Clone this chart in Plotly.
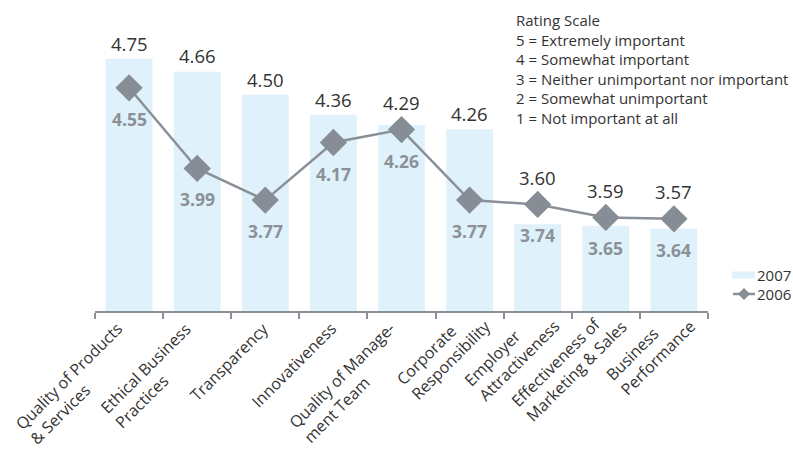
import plotly.graph_objects as go

# ---------------- data ----------------
categories = [
    "Quality of Products & Services",
    "Ethical Business Practices",
    "Transparency",
    "Innovativeness",
    "Quality of Management Team",
    "Corporate Responsibility",
    "Employer Attractiveness",
    "Effectiveness of Marketing & Sales",
    "Business Performance",
]
tick_labels = [
    "Quality of Products<br>& Services",
    "Ethical Business<br>Practices",
    "Transparency",
    "Innovativeness",
    "Quality of Manage-<br>ment Team",
    "Corporate<br>Responsibility",
    "Employer<br>Attractiveness",
    "Effectiveness of<br>Marketing & Sales",
    "Business<br>Performance",
]
values_2007 = [4.75, 4.66, 4.50, 4.36, 4.29, 4.26, 3.60, 3.59, 3.57]
values_2006 = [4.55, 3.99, 3.77, 4.17, 4.26, 3.77, 3.74, 3.65, 3.64]
series_names = ["2007", "2006"]
scale_lines = [
    "Rating Scale",
    "5 = Extremely important",
    "4 = Somewhat important",
    "3 = Neither unimportant nor important",
    "2 = Somewhat unimportant",
    "1 = Not important at all",
]

# ---------------- style ----------------
W, H = 793, 454
ML, MR, MT, MB = 95, 85, 0, 143
PLOT_W = W - ML - MR
PLOT_H = H - MT - MB
PX_PER_UNIT = 144.0
Y0 = 3.0
Y1 = Y0 + PLOT_H / PX_PER_UNIT
FONT = "Open Sans"
BAR_C = "#dff1fb"
LINE_C = "#8a9097"
MARK_C = "#878d94"
DARK = "#333333"
GRAY_TXT = "#8c9198"
LBL_FS = 16


def px(xp):
    return (xp - ML) / PLOT_W


def py(yp):
    return (MT + PLOT_H - yp) / PLOT_H


fig = go.Figure()
fig.add_trace(go.Bar(x=categories, y=values_2007, marker_color=BAR_C,
                     name=series_names[0], showlegend=False, hoverinfo="skip"))
fig.add_trace(go.Scatter(x=categories, y=values_2006, mode="lines+markers",
                         line=dict(color=LINE_C, width=2.5),
                         marker=dict(symbol="diamond", size=21, color=MARK_C),
                         name=series_names[1], showlegend=False, hoverinfo="skip"))

ann = []
for c, v7, v6 in zip(categories, values_2007, values_2006):
    ytop = max(v7 + 16 / PX_PER_UNIT, v6 + 27 / PX_PER_UNIT)
    ann.append(dict(x=c, y=ytop, xref="x", yref="y", text=f"{v7:.2f}",
                    showarrow=False, yanchor="middle",
                    font=dict(family=FONT, size=18.5, color=DARK)))
    ann.append(dict(x=c, y=v6, xref="x", yref="y", text=f"<b>{v6:.2f}</b>",
                    showarrow=False, yanchor="middle", yshift=-31,
                    font=dict(family=FONT, size=17.5, color=GRAY_TXT)))

for c, t in zip(categories, tick_labels):
    lines = t.split("<br>")
    nlines = len(lines)
    h = nlines * 1.3 * LBL_FS + 2
    if nlines == 1:
        dx, dy = -6, -4
    elif len(lines[1]) > len(lines[0]):
        dx, dy = -2, 13
    else:
        dx, dy = -15, -4
    ann.append(dict(x=c, y=0, xref="x", yref="paper", text=t, showarrow=False,
                    textangle=-45, align="left", xanchor="right", yanchor="top",
                    xshift=0.7071 * h + dx, yshift=dy,
                    font=dict(family=FONT, size=LBL_FS, color=DARK)))

ann.append(dict(x=px(514), y=py(8), xref="paper", yref="paper",
                text="<br>".join(scale_lines), showarrow=False, align="left",
                xanchor="left", yanchor="top",
                font=dict(family=FONT, size=15, color=DARK)))

# legend (drawn manually so it does not push the plot margins)
LEG_Y = [275, 294]
for name, ly in zip(series_names, LEG_Y):
    ann.append(dict(x=px(755), y=py(ly), xref="paper", yref="paper", text=name,
                    showarrow=False, xanchor="left", yanchor="middle",
                    font=dict(family=FONT, size=15, color=DARK)))
shapes = [
    dict(type="rect", xref="paper", yref="paper", x0=px(732), x1=px(755),
         y0=py(LEG_Y[0] - 3.5), y1=py(LEG_Y[0] + 3.5), fillcolor=BAR_C,
         line=dict(width=0)),
    dict(type="line", xref="paper", yref="paper", x0=px(733), x1=px(755),
         y0=py(LEG_Y[1]), y1=py(LEG_Y[1]), line=dict(color=LINE_C, width=2.5)),
    dict(type="path", xref="paper", yref="paper", xsizemode="pixel", ysizemode="pixel",
         xanchor=px(744), yanchor=py(LEG_Y[1]),
         path="M 0,6 L 6,0 L 0,-6 L -6,0 Z", fillcolor=MARK_C, line=dict(width=0)),
]

fig.update_layout(
    width=W, height=H,
    margin=dict(l=ML, r=MR, t=MT, b=MB),
    paper_bgcolor="white", plot_bgcolor="white",
    annotations=ann, shapes=shapes,
    bargap=0.32, showlegend=False,
    font=dict(family=FONT, color=DARK),
)
fig.update_xaxes(type="category", categoryorder="array", categoryarray=categories,
                 showticklabels=False, ticks="outside", tickson="boundaries",
                 ticklen=6, tickwidth=2, tickcolor=LINE_C, showline=True,
                 linecolor=LINE_C, linewidth=2, showgrid=False, zeroline=False,
                 range=[-0.5, len(categories) - 0.5])
fig.update_yaxes(range=[Y0, Y1], visible=False, showgrid=False, zeroline=False)

fig.write_html("out.html")
